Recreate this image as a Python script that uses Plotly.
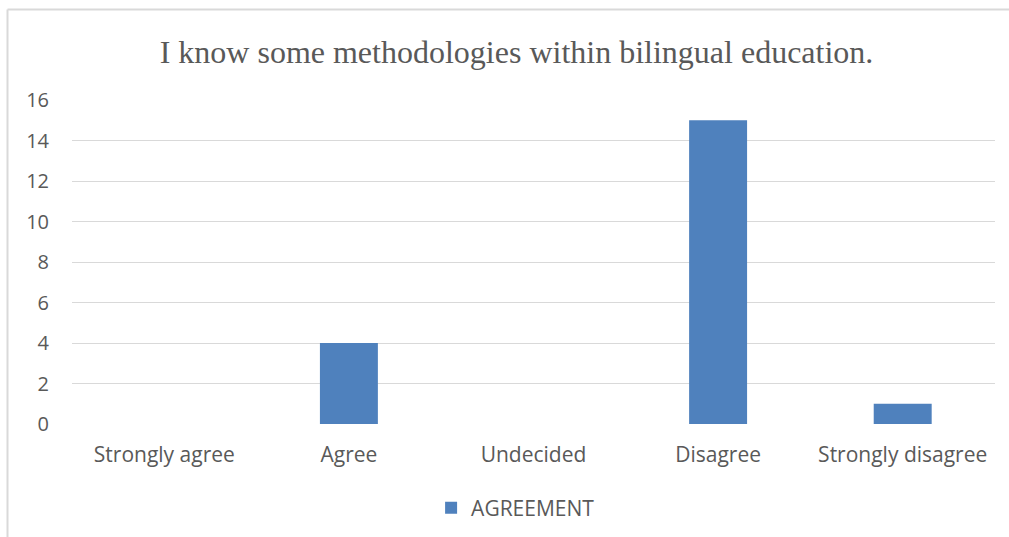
import plotly.graph_objects as go

categories = ["Strongly agree", "Agree", "Undecided", "Disagree", "Strongly disagree"]
agreement = [0, 4, 0, 15, 1]
series_name = "AGREEMENT"
title_text = "I know some methodologies within bilingual education."

W, H = 1009, 537
L, R, T, B = 72, 14, 100, 113
pw, ph = W - L - R, H - T - B

def px_x(x):
    return (x - L) / pw

def px_y(y):
    return (H - B - y) / ph

fig = go.Figure()
fig.add_trace(go.Bar(x=categories, y=agreement, name=series_name,
                     marker=dict(color="#4f81bd", line=dict(width=0))))

fig.update_layout(
    width=W, height=H,
    margin=dict(l=L, r=R, t=T, b=B),
    paper_bgcolor="white", plot_bgcolor="white",
    bargap=0.686,
    title=dict(text=title_text, x=516.5 / W, xref="container", xanchor="center",
               y=1 - 52 / H, yanchor="middle",
               font=dict(family="Liberation Serif", size=32, color="#595959")),
    font=dict(family="Open Sans", size=21, color="#595959"),
    showlegend=True,
    legend=dict(orientation="h", x=0.511, xanchor="center", xref="container",
                y=1 - 508 / H, yanchor="middle", yref="container",
                font=dict(size=21, color="#595959"), itemwidth=30),
    xaxis=dict(showgrid=False, showline=False, zeroline=False, ticks="",
               ticklabelstandoff=16, tickfont=dict(size=21, color="#595959")),
    yaxis=dict(range=[0, 16], dtick=2, showgrid=True, gridcolor="#d9d9d9",
               gridwidth=1, zeroline=False, showline=False, ticks="",
               ticklabelstandoff=22, tickfont=dict(size=20, color="#595959")),
    shapes=[
        dict(type="line", xref="paper", yref="paper",
             x0=px_x(7.5), x1=px_x(1012), y0=px_y(9.5), y1=px_y(9.5),
             line=dict(color="#d9d9d9", width=2), layer="above"),
        dict(type="line", xref="paper", yref="paper",
             x0=px_x(7.5), x1=px_x(7.5), y0=px_y(9.5), y1=px_y(540),
             line=dict(color="#d9d9d9", width=2), layer="above"),
    ],
)

fig.write_html("out.html", config={"displayModeBar": False},
               post_script="document.body.style.margin='0px';document.body.style.overflow='hidden';")
